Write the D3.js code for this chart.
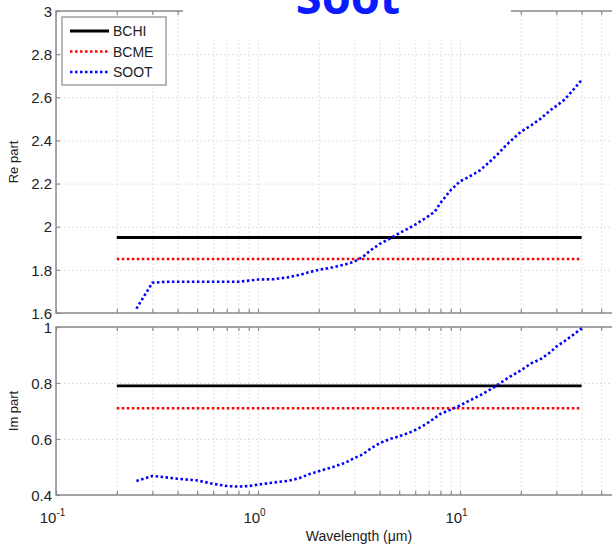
<!DOCTYPE html>
<html>
<head>
<meta charset="utf-8">
<script src="https://cdn.jsdelivr.net/npm/d3@7"></script>
<style>
  html, body { margin: 0; padding: 0; background: #fff; }
  svg { display: block; font-family: "Liberation Sans", Arial, sans-serif; }
</style>
</head>
<body>
<svg id="chart" width="612" height="546"></svg>
<script>
// Refractive index of black carbon / soot versus wavelength (µm)
const seriesNames = ["BCHI", "BCME", "SOOT"];
const seriesColors = ["#000000", "#ff0000", "#0000ff"];

// Constant-index models span 0.2 – 40 µm
const constRange = [0.2, 40];
const bchiRe = 1.95, bcmeRe = 1.85;
const bchiIm = 0.79, bcmeIm = 0.71;

// SOOT spectral refractive index
const sootWl = [0.25, 0.3, 0.35, 0.4, 0.5, 0.6, 0.7, 0.8, 0.9, 1.0, 1.2, 1.4, 1.6, 1.8, 2.0, 2.35, 2.7, 3.0, 3.3, 3.6, 4.0, 4.5, 5.0, 5.5, 6.0, 6.5, 7.0, 7.5, 8.0, 9.0, 10.0, 11.0, 12.5, 14.0, 15.5, 17.0, 20.0, 22.5, 25.0, 28.0, 30.0, 33.0, 36.0, 40.0];
const sootRe = [1.62, 1.74, 1.745, 1.745, 1.745, 1.745, 1.745, 1.745, 1.75, 1.755, 1.757, 1.765, 1.776, 1.79, 1.80, 1.812, 1.825, 1.838, 1.86, 1.89, 1.92, 1.945, 1.97, 1.99, 2.01, 2.03, 2.05, 2.07, 2.11, 2.17, 2.21, 2.23, 2.26, 2.30, 2.34, 2.38, 2.44, 2.47, 2.50, 2.54, 2.56, 2.59, 2.63, 2.68];
const sootIm = [0.45, 0.468, 0.463, 0.458, 0.452, 0.44, 0.432, 0.43, 0.432, 0.437, 0.445, 0.45, 0.46, 0.475, 0.485, 0.50, 0.515, 0.532, 0.545, 0.565, 0.585, 0.60, 0.61, 0.62, 0.632, 0.645, 0.66, 0.675, 0.69, 0.705, 0.72, 0.735, 0.755, 0.775, 0.795, 0.815, 0.845, 0.87, 0.885, 0.91, 0.93, 0.95, 0.97, 0.995];

// Axis ticks (labelled decades)
const xMajor = [0.1, 1, 10];
const xExp = ["-1", "0", "1"];
const reTicks = [1.6, 1.8, 2, 2.2, 2.4, 2.6, 2.8, 3];
const imTicks = [0.4, 0.6, 0.8, 1];

const svg = d3.select("#chart");
const x = d3.scaleLog().domain([0.1, 100]).range([56, 662]);
const yRe = d3.scaleLinear().domain([1.6, 3]).range([313, 11]);
const yIm = d3.scaleLinear().domain([0.4, 1]).range([495, 327]);

const xAll = [];
for (let d = 0.1; d < 100; d *= 10) for (let k = 1; k <= 9; k++) xAll.push(+(d * k).toPrecision(3));

const axisColor = "#8a8a8a";
const gridColor = "#d8d8d8";

function panel(y, yTicks, yFmt, yLabel, yLabelPos) {
  const g = svg.append("g");
  const [y0, y1] = y.range();
  const h = y0 - y1;
  const w = x.range()[1] - x.range()[0];

  // vertical grid
  g.append("g").attr("transform", `translate(0,${y0})`)
    .call(d3.axisBottom(x).tickValues(xAll).tickSize(-h).tickFormat(""))
    .call(s => s.select(".domain").remove())
    .call(s => s.selectAll("line").attr("stroke", gridColor).attr("stroke-dasharray", "1.5,2.5"));
  // horizontal grid
  g.append("g").attr("transform", `translate(${x.range()[0]},0)`)
    .call(d3.axisLeft(y).tickValues(yTicks).tickSize(-w).tickFormat(""))
    .call(s => s.select(".domain").remove())
    .call(s => s.selectAll("line").attr("stroke", gridColor).attr("stroke-dasharray", "1.5,2.5"));

  // frame
  g.append("rect")
    .attr("x", x.range()[0]).attr("y", y1).attr("width", w).attr("height", h)
    .attr("fill", "none").attr("stroke", axisColor).attr("stroke-width", 1.5);

  // inward ticks on bottom & top
  const bot = g.append("g").attr("transform", `translate(0,${y0})`)
    .call(d3.axisBottom(x).tickValues(xAll).tickSize(-4).tickFormat(""));
  const top = g.append("g").attr("transform", `translate(0,${y1})`)
    .call(d3.axisTop(x).tickValues(xAll).tickSize(-4).tickFormat(""));
  [bot, top].forEach(a => {
    a.select(".domain").remove();
    a.selectAll("line").attr("stroke", axisColor).attr("stroke-width", 1.2);
  });

  // left axis with labels
  const left = g.append("g").attr("transform", `translate(${x.range()[0]},0)`)
    .call(d3.axisLeft(y).tickValues(yTicks).tickSize(-4).tickPadding(4).tickFormat(yFmt));
  left.select(".domain").remove();
  left.selectAll("line").attr("stroke", axisColor).attr("stroke-width", 1.2);
  left.selectAll("text").attr("fill", "#222").attr("font-size", 15)
    .attr("font-family", "'Liberation Sans', Arial, sans-serif").attr("dy", "0.35em");

  g.append("text")
    .attr("transform", `translate(${yLabelPos[0]},${yLabelPos[1]}) rotate(-90)`)
    .attr("text-anchor", "middle").attr("font-size", 13).attr("fill", "#222")
    .text(yLabel);
  return g;
}

const fmt = d => (Math.round(d * 10) / 10).toString();
const gRe = panel(yRe, reTicks, fmt, "Re part", [18, 162]);
const gIm = panel(yIm, imTicks, fmt, "Im part", [18, 411]);

// white box behind the title
svg.append("rect").attr("x", 183).attr("y", 0).attr("width", 328).attr("height", 39).attr("fill", "#fff");
svg.append("text")
  .attr("x", 348).attr("y", 14).attr("text-anchor", "middle")
  .attr("font-family", "'Open Sans', sans-serif").attr("font-weight", "bold")
  .attr("font-size", 47).attr("fill", "#0a1cff")
  .text("Soot");

// x-axis decade labels (bottom panel)
const xl = svg.append("g").attr("transform", `translate(0,${yIm.range()[0]})`)
  .call(d3.axisBottom(x).tickValues(xMajor).tickSize(0).tickFormat(""));
xl.select(".domain").remove();
xl.selectAll(".tick").each(function(d, i) {
  const t = d3.select(this).append("text").attr("y", 28).attr("fill", "#222")
    .attr("font-size", 15).attr("text-anchor", "middle").attr("dx", "-4");
  t.append("tspan").text("10");
  t.append("tspan").attr("dy", -7).attr("font-size", 10).text(xExp[i]);
});
svg.append("text").attr("x", 359).attr("y", 541).attr("text-anchor", "middle")
  .attr("font-size", 14).attr("fill", "#222").text("Wavelength (\u03bcm)");

// line styles
const styles = [
  { color: seriesColors[0], width: 2.8, dash: null },
  { color: seriesColors[1], width: 2.5, dash: "2.5,2.5" },
  { color: seriesColors[2], width: 2.6, dash: "2.5,2.5" }
];

function drawLine(g, y, xs, ys, st) {
  const line = d3.line().x(d => x(d[0])).y(d => y(d[1]));
  g.append("path").datum(xs.map((v, i) => [v, ys[i]]))
    .attr("d", line).attr("fill", "none")
    .attr("stroke", st.color).attr("stroke-width", st.width)
    .attr("stroke-dasharray", st.dash);
}

drawLine(gRe, yRe, constRange, [bchiRe, bchiRe], styles[0]);
drawLine(gRe, yRe, constRange, [bcmeRe, bcmeRe], styles[1]);
drawLine(gRe, yRe, sootWl, sootRe, styles[2]);
drawLine(gIm, yIm, constRange, [bchiIm, bchiIm], styles[0]);
drawLine(gIm, yIm, constRange, [bcmeIm, bcmeIm], styles[1]);
drawLine(gIm, yIm, sootWl, sootIm, styles[2]);

// legend
const lg = svg.append("g").attr("transform", "translate(62,17)");
lg.append("rect").attr("width", 104).attr("height", 68)
  .attr("fill", "#fff").attr("stroke", axisColor).attr("stroke-width", 1.2);
seriesNames.forEach((n, i) => {
  const yy = 14 + i * 20.5;
  lg.append("line").attr("x1", 8).attr("x2", 47).attr("y1", yy).attr("y2", yy)
    .attr("stroke", styles[i].color).attr("stroke-width", styles[i].width)
    .attr("stroke-dasharray", styles[i].dash);
  lg.append("text").attr("x", 51).attr("y", yy).attr("dy", "0.36em")
    .attr("font-size", 14).attr("fill", "#222").text(n);
});
</script>
</body>
</html>
